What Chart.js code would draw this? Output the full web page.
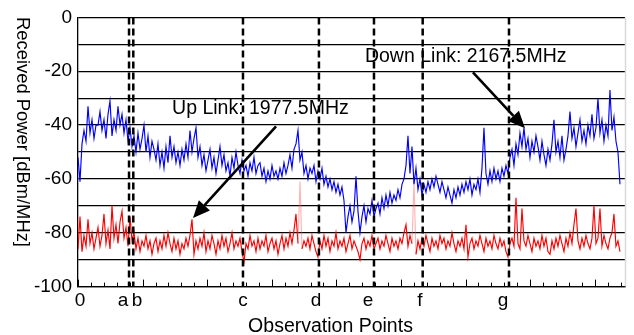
<!DOCTYPE html>
<html><head><meta charset="utf-8">
<script src="https://cdn.jsdelivr.net/npm/chart.js@4/dist/chart.umd.min.js"></script>
<style>html,body{margin:0;padding:0;background:#fff}canvas{display:block}</style>
</head><body>
<canvas id="c" width="634" height="335"></canvas>
<script>
// spacing between successive observation samples (x-axis units)
const STEP = 0.1548;

// Down Link 2167.5 MHz received power [dBm/MHz]
const downLink = [
 -52,-61,-47,-42,-46,-33,-43,-38,-45,-40,
 -40,-35,-42,-38,-45,-36,-31,-44,-38,-42,
 -33,-40,-36,-43,-38,-46,-41,-48,-44,-50,
 -43,-49,-45,-40,-50,-44,-52,-46,-49,-53,
 -47,-55,-50,-56,-48,-54,-44,-52,-48,-54,
 -50,-55,-49,-53,-47,-52,-42,-50,-45,-41,
 -52,-48,-55,-51,-57,-53,-49,-56,-52,-58,
 -53,-48,-55,-51,-57,-54,-59,-52,-56,-50,
 -55,-58,-53,-57,-55,-59,-54,-57,-52,-58,
 -55,-54,-59,-56,-61,-57,-60,-55,-59,-57,
 -60,-56,-59,-54,-58,-55,-51,-56,-49,-47,
 -42,-53,-50,-58,-55,-60,-56,-58,-55,-61,
 -57,-60,-56,-62,-59,-63,-60,-64,-61,-65,
 -62,-66,-63,-68,-80,-74,-70,-76,-72,-59,
 -72,-80,-74,-70,-76,-71,-73,-68,-74,-71,
 -69,-73,-67,-71,-66,-70,-65,-69,-66,-68,
 -64,-67,-62,-60,-55,-44,-58,-48,-62,-56,
 -64,-60,-66,-62,-65,-61,-64,-60,-63,-59,
 -62,-65,-61,-64,-67,-63,-66,-69,-64,-67,
 -63,-66,-62,-65,-61,-64,-60,-66,-62,-64,
 -60,-65,-56,-41,-58,-62,-57,-61,-56,-60,
 -57,-61,-56,-59,-55,-58,-52,-49,-55,-47,
 -51,-43,-48,-41,-49,-45,-52,-46,-50,-44,
 -48,-53,-46,-51,-55,-49,-53,-47,-38,-50,
 -46,-52,-44,-53,-49,-44,-35,-45,-41,-48,
 -43,-38,-46,-42,-47,-40,-44,-36,-45,-41,
 -30,-43,-38,-46,-40,-44,-27,-42,-37,-46,
 -50,-62
];

// Up Link 1977.5 MHz received power [dBm/MHz]
const upLink = [
 -86,-74,-87,-81,-85,-75,-84,-80,-86,-82,
 -78,-85,-81,-73,-84,-79,-86,-70,-82,-77,
 -84,-76,-72,-82,-78,-85,-74,-83,-80,-86,
 -82,-87,-83,-85,-81,-86,-83,-88,-84,-82,
 -87,-83,-86,-81,-85,-80,-84,-87,-82,-86,
 -83,-88,-84,-86,-82,-85,-81,-75,-88,-83,
 -86,-82,-85,-80,-87,-83,-86,-81,-84,-88,
 -83,-86,-81,-85,-82,-87,-84,-80,-86,-83,
 -85,-82,-87,-91,-84,-86,-81,-85,-83,-87,
 -82,-86,-83,-85,-81,-87,-84,-82,-86,-83,
 -88,-84,-81,-86,-82,-85,-80,-84,-79,-73,
 -84,-61,-86,-83,-85,-82,-86,-81,-84,-87,
 -89,-83,-86,-81,-85,-82,-87,-83,-85,-80,
 -86,-83,-85,-82,-87,-84,-81,-86,-83,-85,
 -87,-90,-84,-82,-86,-83,-85,-81,-86,-84,
 -82,-86,-83,-85,-81,-84,-87,-82,-85,-83,
 -86,-82,-84,-80,-77,-85,-81,-84,-61,-88,
 -83,-86,-82,-85,-81,-84,-87,-82,-85,-83,
 -86,-81,-84,-82,-86,-83,-85,-80,-84,-87,
 -83,-85,-82,-86,-77,-89,-84,-82,-86,-83,
 -85,-81,-84,-87,-82,-85,-83,-86,-81,-84,
 -86,-82,-85,-83,-87,-89,-84,-82,-85,-67,
 -84,-86,-71,-83,-85,-81,-84,-87,-82,-85,
 -83,-86,-81,-85,-82,-87,-88,-83,-86,-82,
 -85,-81,-84,-87,-82,-85,-80,-84,-77,-71,
 -83,-86,-82,-85,-81,-84,-86,-82,-70,-84,
 -82,-71,-85,-81,-84,-86,-82,-80,-73,-85,
 -83,-87
];

// observation point markers (dashed lines) and x tick labels
const markerNames = ['a','b','c','d','e','f','g'];
const markerPos = [3.95, 4.28, 12.77, 18.65, 22.91, 26.68, 33.36];
const xTickLabels = ['0','a','b','c','d','e','f','g'];
const xTickLabelPos = [0.15, 3.48, 4.57, 12.77, 18.42, 22.45, 26.47, 32.89];
const yTickLabels = [0, -20, -40, -60, -80, -100];

const FONT = '"Liberation Sans", Arial, Helvetica, sans-serif';

const datasets = [];
markerPos.forEach((p, i) => {
  datasets.push({
    label: 'obs ' + markerNames[i],
    data: [{x: p, y: 0}, {x: p, y: -100}],
    borderColor: '#000', borderWidth: 2.5, borderDash: [7, 4],
    pointRadius: 0, order: 0, clip: false
  });
});
datasets.push({
  label: 'Down Link: 2167.5MHz',
  data: downLink.map((v, i) => ({x: i * STEP, y: v})),
  borderColor: 'rgb(0,0,255)', borderWidth: 1.15, pointRadius: 0, order: 1
});
datasets.push({
  label: 'Up Link: 1977.5MHz',
  data: upLink.map((v, i) => ({x: i * STEP, y: v})),
  borderColor: 'rgb(255,0,0)', borderWidth: 1.15, pointRadius: 0, order: 2,
  segment: {
    // thin isolated spikes render faint in the original
    borderColor: c => (c.p0.parsed.y > -65 || c.p1.parsed.y > -65) ? 'rgba(255,90,90,0.45)' : undefined
  }
});

function arrow(ctx, x1, y1, x2, y2) {
  const ang = Math.atan2(y2 - y1, x2 - x1);
  const hl = 17, hw = 7.5;
  const bx = x2 - hl * Math.cos(ang), by = y2 - hl * Math.sin(ang);
  ctx.beginPath(); ctx.moveTo(x1, y1); ctx.lineTo(bx, by);
  ctx.lineWidth = 2.6; ctx.strokeStyle = '#000'; ctx.stroke();
  ctx.beginPath();
  ctx.moveTo(x2, y2);
  ctx.lineTo(bx + hw * Math.sin(ang), by - hw * Math.cos(ang));
  ctx.lineTo(bx - hw * Math.sin(ang), by + hw * Math.cos(ang));
  ctx.closePath(); ctx.fillStyle = '#000'; ctx.fill();
}

const decor = {
  id: 'decor',
  beforeDraw(chart) {
    const c = chart.ctx; c.save(); c.fillStyle = '#fff';
    c.fillRect(0, 0, chart.width, chart.height); c.restore();
  },
  afterDraw(chart, args, o) {
    const {ctx, chartArea: a, scales: {x, y}} = chart;
    ctx.save();
    // inward minor / major tick marks on the bottom axis
    ctx.strokeStyle = '#000'; ctx.lineWidth = 1;
    for (let k = 0; k <= 42; k++) {
      const px = Math.round(x.getPixelForValue(k)) + 0.5;
      const len = k % 5 === 0 ? 7 : 4;
      ctx.beginPath(); ctx.moveTo(px, a.bottom); ctx.lineTo(px, a.bottom - len); ctx.stroke();
    }
    // light right frame edge
    ctx.strokeStyle = '#d9d9d9'; ctx.lineWidth = 1.5;
    ctx.beginPath(); ctx.moveTo(a.right + 0.5, a.top); ctx.lineTo(a.right + 0.5, a.bottom); ctx.stroke();
    // annotation texts
    ctx.fillStyle = '#000'; ctx.font = '19.5px ' + FONT;
    ctx.textAlign = 'left'; ctx.textBaseline = 'alphabetic';
    o.notes.forEach(n => ctx.fillText(n.text, x.getPixelForValue(n.x), y.getPixelForValue(n.y)));
    // arrows
    o.arrows.forEach(r => arrow(ctx, x.getPixelForValue(r[0]), y.getPixelForValue(r[1]),
                                      x.getPixelForValue(r[2]), y.getPixelForValue(r[3])));
    // axis titles
    ctx.fillStyle = '#000';
    ctx.font = '19.5px ' + FONT; ctx.textAlign = 'center';
    ctx.fillText('Observation Points', 330.5, 332);
    ctx.save();
    ctx.translate(17, 132); ctx.rotate(Math.PI / 2);
    ctx.font = '18.4px ' + FONT; ctx.textAlign = 'center'; ctx.textBaseline = 'alphabetic';
    ctx.fillText('Received Power [dBm/MHz]', 0, 0);
    ctx.restore();
    ctx.restore();
  }
};

new Chart(document.getElementById('c'), {
  type: 'line',
  data: {datasets},
  plugins: [decor],
  options: {
    responsive: false, animation: false, devicePixelRatio: 1,
    layout: {padding: {top: 13.4, right: 9, left: 0, bottom: 0}},
    plugins: {
      legend: {display: false}, tooltip: {enabled: false},
      decor: {
        notes: [
          {text: 'Up Link: 1977.5MHz', x: 7.28, y: -35.7},
          {text: 'Down Link: 2167.5MHz', x: 22.21, y: -16.4}
        ],
        arrows: [
          [15.33, -40.5, 8.90, -74.5],
          [30.57, -20.4, 34.6, -41.2]
        ]
      }
    },
    scales: {
      x: {
        type: 'linear', min: 0, max: 42.34, bounds: 'data',
        afterFit(s) { s.height = 48.4; },
        afterBuildTicks(s) { s.ticks = xTickLabelPos.map(v => ({value: v})); },
        grid: {display: false, drawTicks: false},
        border: {display: true, color: '#000', width: 1.3},
        ticks: {
          autoSkip: false, maxRotation: 0, padding: 3, color: '#000',
          font: {family: FONT, size: 19},
          callback: (v, i) => xTickLabels[i]
        }
      },
      y: {
        type: 'linear', min: -100, max: 0,
        afterFit(s) { s.width = 78; },
        grid: {color: '#000', lineWidth: 1.2, drawTicks: false},
        border: {display: true, color: '#000', width: 1.3},
        ticks: {
          stepSize: 10, padding: 6, color: '#000',
          font: {family: FONT, size: 19},
          callback: v => yTickLabels.includes(v) ? String(v) : ''
        }
      }
    }
  }
});
</script>
</body></html>
